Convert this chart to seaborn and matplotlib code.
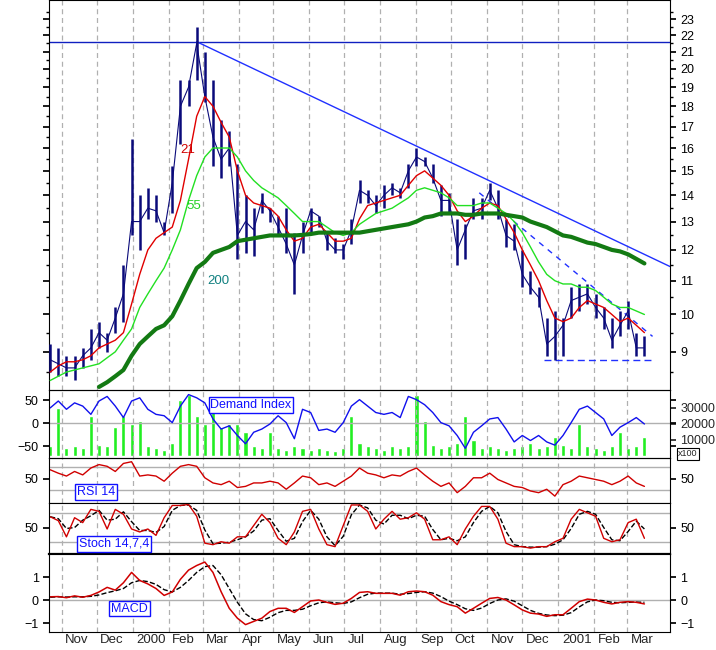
import numpy as np
import pandas as pd
import seaborn as sns
import matplotlib.pyplot as plt
import matplotlib.dates as md
import matplotlib.ticker as mt

sns.set_theme(style="white")
plt.rcParams["font.family"] = "Liberation Sans"

# weekly readings, Oct 22 1999 .. Mar 16 2001
dates = pd.date_range("1999-10-22", periods=74, freq="7D")

close = [8.8, 8.7, 8.6, 8.6, 8.9, 9.1, 9.5, 9.3, 9.9, 10.6, 13.0, 13.0, 13.5, 13.4, 12.6, 14.5, 18.0, 19.0, 21.5, 18.5,
         16.5, 15.5, 16.0, 12.5, 13.0, 12.7, 13.8, 13.4, 12.8, 12.2, 11.5, 12.5, 13.4, 13.2, 12.3, 12.0, 12.0, 12.7, 14.2, 14.0,
         13.6, 14.0, 14.3, 14.1, 15.0, 15.6, 15.4, 14.7, 13.8, 13.8, 12.0, 12.7, 13.4, 13.5, 14.2, 13.5, 12.5, 12.3, 11.2, 10.8,
         10.5, 9.2, 9.4, 9.7, 10.4, 10.5, 10.6, 10.2, 9.9, 9.3, 9.7, 10.1, 9.1, 9.1]
high = [9.2, 9.1, 8.9, 8.9, 9.1, 9.6, 9.8, 9.5, 10.2, 11.5, 16.4, 14.0, 14.3, 14.0, 13.0, 15.2, 19.4, 19.4, 22.5, 21.0,
        19.4, 17.3, 16.8, 15.3, 14.0, 13.5, 14.1, 13.5, 13.2, 13.5, 12.6, 13.0, 13.5, 13.2, 12.6, 12.4, 12.2, 13.1, 14.6, 14.2,
        14.0, 14.4, 14.5, 14.3, 15.3, 16.0, 15.6, 15.3, 14.4, 14.1, 13.1, 12.9, 13.9, 13.9, 14.5, 14.2, 13.1, 12.9, 12.0, 11.3,
        10.8, 9.9, 10.1, 9.9, 10.8, 10.9, 10.9, 10.6, 10.2, 9.9, 10.1, 10.4, 9.5, 9.4]
low = [8.5, 8.4, 8.4, 8.3, 8.6, 8.8, 9.1, 9.0, 9.5, 9.8, 12.5, 12.0, 13.1, 13.0, 12.5, 13.3, 16.2, 18.0, 19.4, 18.2,
       15.2, 14.7, 15.2, 11.7, 11.9, 11.8, 13.3, 13.0, 12.5, 11.9, 10.6, 11.9, 12.6, 12.8, 12.0, 11.9, 11.7, 12.2, 13.7, 13.7,
       13.3, 13.5, 14.0, 13.9, 14.3, 15.2, 15.2, 14.5, 13.2, 13.3, 11.5, 11.7, 13.1, 13.1, 13.8, 13.1, 12.1, 12.0, 10.8, 10.6,
       10.2, 8.9, 8.8, 8.9, 9.9, 10.1, 10.3, 9.9, 9.6, 9.1, 9.4, 9.6, 8.9, 8.9]
ma21 = [8.5, 8.65, 8.75, 8.75, 8.8, 8.9, 9.1, 9.2, 9.3, 9.5, 10.3, 11.2, 12.0, 12.4, 12.6, 12.8, 13.8, 15.5, 17.5, 18.5,
        18.0, 17.2, 16.5, 15.0, 14.0, 13.7, 13.6, 13.5, 13.2, 12.7, 12.3, 12.4, 12.8, 12.9, 12.6, 12.3, 12.3, 12.4, 13.1, 13.6,
        13.7, 13.8, 13.9, 14.0, 14.4, 14.8, 15.0, 14.7, 14.4, 14.0, 13.4, 13.0, 13.2, 13.5, 13.7, 13.6, 13.1, 12.6, 12.0, 11.5,
        11.0, 10.4, 9.9, 9.8, 9.9, 10.2, 10.4, 10.3, 10.2, 10.0, 9.8, 9.9, 9.7, 9.5]
ma55 = [8.3, 8.4, 8.5, 8.55, 8.6, 8.65, 8.7, 8.85, 9.0, 9.3, 9.6, 10.2, 10.6, 11.0, 11.4, 12.0, 12.7, 13.8, 14.8, 15.6,
        16.0, 16.0, 16.0, 15.6, 15.0, 14.6, 14.3, 14.1, 13.9, 13.6, 13.3, 13.0, 13.0, 13.0, 12.8, 12.6, 12.5, 12.6, 12.9, 13.1,
        13.3, 13.4, 13.5, 13.7, 13.9, 14.2, 14.3, 14.2, 14.1, 13.9, 13.6, 13.6, 13.6, 13.7, 13.7, 13.5, 13.3, 13.0, 12.6, 12.1,
        11.6, 11.2, 11.0, 10.9, 10.9, 10.8, 10.8, 10.7, 10.5, 10.3, 10.2, 10.2, 10.1, 10.0]
ma200 = [np.nan] * 6 + [8.15, 8.26, 8.4, 8.55, 8.9, 9.2, 9.4, 9.6, 9.7, 9.95, 10.4, 10.9, 11.4, 11.6,
         11.9, 12.0, 12.1, 12.3, 12.35, 12.4, 12.45, 12.5, 12.5, 12.5, 12.5, 12.52, 12.55, 12.6, 12.6, 12.6, 12.6, 12.6, 12.6, 12.65,
         12.7, 12.75, 12.8, 12.85, 12.9, 13.0, 13.15, 13.2, 13.3, 13.3, 13.3, 13.25, 13.25, 13.3, 13.3, 13.3, 13.25, 13.2, 13.15, 13.0,
         12.9, 12.8, 12.65, 12.5, 12.45, 12.35, 12.25, 12.2, 12.1, 12.0, 11.95, 11.85, 11.7, 11.55]

demand = [33, 48, 30, 44, 37, 19, 48, 58, 37, 12, 48, 55, 30, 19, 16, 1, 37, 62, 55, 44,
          9, -13, -6, -27, -45, -20, -13, -2, 16, 1, -34, 30, 23, -16, -13, -20, 1, 37, 51, 37,
          23, 19, 23, 12, 58, 51, 40, 23, 1, -6, -27, -55, -20, -6, 9, 12, -13, -41, -27, -38,
          -27, -41, -48, -27, 1, 30, 37, 23, 9, -27, -9, 1, 12, -2]
volume = [6000, 30000, 5000, 6000, 5000, 25000, 7000, 6000, 18000, 25000, 20000, 22000, 6000, 5000, 4000, 8000, 35000, 38000, 25000, 20000,
          30000, 18000, 20000, 20000, 15000, 6000, 5000, 15000, 5000, 4000, 6000, 5000, 4000, 5000, 4000, 3000, 5000, 25000, 8000, 6000,
          5000, 4000, 6000, 5000, 6000, 38000, 22000, 7000, 5000, 6000, 8000, 25000, 10000, 5000, 6000, 5000, 4000, 5000, 6000, 8000,
          5000, 6000, 12000, 7000, 5000, 20000, 6000, 5000, 4000, 6000, 15000, 5000, 6000, 12000]
rsi = [66, 60, 55, 63, 57, 69, 75, 72, 63, 77, 80, 55, 57, 55, 46, 60, 72, 75, 72, 52,
       43, 40, 46, 35, 37, 43, 43, 46, 43, 32, 43, 55, 52, 40, 43, 37, 46, 55, 69, 60,
       57, 52, 57, 55, 63, 69, 57, 46, 37, 43, 26, 37, 52, 52, 60, 49, 43, 37, 35, 29,
       26, 32, 20, 40, 46, 55, 52, 49, 46, 40, 46, 55, 43, 37]
stoch_k = [72, 64, 31, 70, 60, 87, 83, 47, 87, 77, 47, 41, 47, 34, 70, 95, 95, 97, 73, 18,
           15, 21, 18, 31, 31, 54, 77, 60, 28, 15, 41, 83, 87, 47, 15, 11, 54, 96, 96, 83,
           47, 67, 83, 67, 70, 80, 67, 25, 25, 31, 15, 47, 73, 93, 93, 67, 18, 11, 11, 8,
           11, 11, 21, 28, 67, 87, 80, 73, 28, 21, 25, 60, 67, 28]
stoch_d = [72, 68, 48, 50, 65, 74, 85, 65, 67, 82, 62, 44, 44, 40, 52, 85, 95, 96, 85, 45,
           17, 18, 20, 25, 31, 43, 65, 68, 44, 22, 28, 62, 85, 67, 31, 13, 32, 76, 96, 90,
           65, 57, 75, 75, 68, 75, 73, 46, 25, 28, 23, 31, 60, 83, 93, 80, 42, 15, 11, 10,
           10, 11, 16, 25, 48, 77, 83, 77, 50, 25, 23, 42, 63, 47]
macd = [0.14, 0.15, 0.1, 0.18, 0.12, 0.2, 0.35, 0.55, 0.43, 0.75, 1.2, 0.85, 0.7, 0.5, 0.2, 0.35, 0.9, 1.3, 1.5, 1.65,
        1.2, 0.36, -0.36, -0.79, -1.07, -0.93, -0.79, -0.5, -0.36, -0.36, -0.54, -0.29, -0.04, 0.0, -0.1, -0.19, -0.14, 0.07, 0.33, 0.36,
        0.29, 0.29, 0.29, 0.21, 0.36, 0.39, 0.36, 0.21, -0.07, -0.2, -0.29, -0.57, -0.36, -0.14, 0.07, 0.11, 0.0, -0.21, -0.43, -0.57,
        -0.61, -0.71, -0.64, -0.64, -0.36, -0.07, 0.04, 0.0, -0.1, -0.17, -0.1, -0.07, -0.1, -0.17]
signal = [0.12, 0.14, 0.13, 0.14, 0.14, 0.16, 0.22, 0.32, 0.4, 0.5, 0.75, 0.85, 0.8, 0.68, 0.45, 0.35, 0.55, 0.85, 1.2, 1.45,
          1.5, 1.1, 0.5, -0.1, -0.6, -0.85, -0.9, -0.75, -0.55, -0.45, -0.45, -0.4, -0.25, -0.12, -0.08, -0.12, -0.15, -0.08, 0.1, 0.25,
          0.3, 0.3, 0.3, 0.25, 0.28, 0.33, 0.36, 0.3, 0.15, -0.05, -0.2, -0.38, -0.45, -0.35, -0.15, 0.0, 0.05, -0.05, -0.25, -0.45,
          -0.58, -0.65, -0.68, -0.66, -0.55, -0.3, -0.08, 0.0, -0.03, -0.1, -0.12, -0.1, -0.09, -0.1]

month_labels = ["Nov", "Dec", "2000", "Feb", "Mar", "Apr", "May", "Jun", "Jul", "Aug", "Sep", "Oct",
                "Nov", "Dec", "2001", "Feb", "Mar"]

df = pd.DataFrame(dict(date=dates, close=close, high=high, low=low, ma21=ma21, ma55=ma55, ma200=ma200,
                       demand=demand, volume=volume, rsi=rsi, k=stoch_k, d=stoch_d, macd=macd, signal=signal))

W, H = 716, 650
fig = plt.figure(figsize=(W / 100, H / 100), dpi=100)
fig.patch.set_facecolor("white")


def panel(top, bottom):
    return fig.add_axes([49 / W, 1 - bottom / H, 621 / W, (bottom - top) / H])


ax_p = panel(0, 390)
ax_d = panel(390, 458)
ax_r = panel(458, 503)
ax_s = panel(503, 554)
ax_m = panel(554, 632)
axes = [ax_p, ax_d, ax_r, ax_s, ax_m]

xmin, xmax = pd.Timestamp("1999-10-21"), pd.Timestamp("2001-04-07")
month_starts = pd.date_range("1999-11-01", "2001-03-01", freq="MS")

for ax in axes:
    for m in month_starts:
        ax.axvline(m, color="#b0b0b0", lw=0.9, ls=(0, (4, 3)), zorder=0)
    ax.set_facecolor("white")

# price panel
ax_p.set_yscale("log")
ax_p.vlines(df.date, df.low, df.high, color="#0a0a7a", lw=1.8, zorder=3)
sns.lineplot(data=df, x="date", y="close", ax=ax_p, color="#0a0a7a", lw=0.8, zorder=3)
sns.lineplot(data=df, x="date", y="ma21", ax=ax_p, color="#e00000", lw=1, zorder=4)
sns.lineplot(data=df, x="date", y="ma55", ax=ax_p, color="#22e022", lw=1, zorder=4)
sns.lineplot(data=df, x="date", y="ma200", ax=ax_p, color="#137a13", lw=3, zorder=4)
ax_p.axhline(21.6, color="#1020c0", lw=1, zorder=2)
ax_p.plot([pd.Timestamp("2000-02-25"), xmax], [21.6, 11.45], color="#2030ff", lw=1, zorder=2)
ax_p.plot([pd.Timestamp("2000-10-25"), pd.Timestamp("2001-03-23")], [14.1, 9.4], color="#2030ff", lw=1,
          ls=(0, (4, 4)), zorder=2)
ax_p.plot([pd.Timestamp("2000-12-20"), pd.Timestamp("2001-03-23")], [8.8, 8.8], color="#2030ff", lw=1,
          ls=(0, (5, 3)), zorder=2)
ax_p.set_ylim(8.08, 24.3)
ax_p.text(pd.Timestamp("2000-02-11"), 15.9, "21", color="#d00000", fontsize=9.5, zorder=6, va="center")
ax_p.text(pd.Timestamp("2000-02-16"), 13.6, "55", color="#22d022", fontsize=9.5, zorder=6, va="center")
ax_p.text(pd.Timestamp("2000-03-05"), 11.0, "200", color="#108080", fontsize=9.5, zorder=6, va="center")
ax_p.yaxis.set_major_locator(mt.FixedLocator(range(9, 24)))
ax_p.yaxis.set_minor_locator(mt.FixedLocator(np.arange(8.5, 24, 0.5)))
ax_p.yaxis.set_major_formatter(mt.FormatStrFormatter("%d"))
ax_p.yaxis.set_minor_formatter(mt.NullFormatter())


def box_label(ax, x, y, s):
    ax.text(x, y, s, color="#1010ff", fontsize=9, transform=ax.transAxes, va="center", ha="left",
            bbox=dict(boxstyle="square,pad=0.15", fc="white", ec="#1010ff", lw=1), zorder=6)


# demand index + volume
ax_v = ax_d.twinx()
ax_v.bar(df.date, df.volume, width=3.5, color="#22ee22", zorder=1)
ax_v.set_ylim(-1250, 41250)
ax_v.set_yticks([10000, 20000, 30000])
ax_v.tick_params(axis="y", labelsize=9, right=True, direction="out", length=4)
ax_v.grid(False)
ax_v.set_xlim(xmin, xmax)
ax_v.set_ylabel("")
for s in ax_v.spines.values():
    s.set_visible(False)
ax_d.set_zorder(ax_v.get_zorder() + 1)
ax_d.patch.set_visible(False)
ax_d.axhline(0, color="#b0b0b0", lw=1)
sns.lineplot(data=df, x="date", y="demand", ax=ax_d, color="#1010ee", lw=1)
ax_d.set_ylim(-76, 72)
ax_d.set_yticks([-50, 0, 50])
box_label(ax_d, 0.26, 0.78, "Demand Index")
fig.text(678 / W, 1 - 454 / H, "x100", fontsize=6.5, va="center",
         bbox=dict(boxstyle="square,pad=0.12", fc="white", ec="black", lw=0.8), zorder=10)

# RSI
ax_r.axhline(70, color="#b0b0b0", lw=1)
ax_r.axhline(30, color="#b0b0b0", lw=1)
sns.lineplot(data=df, x="date", y="rsi", ax=ax_r, color="#d00000", lw=1)
ax_r.set_ylim(8, 86.5)
ax_r.set_yticks([50])
box_label(ax_r, 0.045, 0.25, "RSI 14")

# Stochastic
ax_s.axhline(80, color="#b0b0b0", lw=1)
ax_s.axhline(20, color="#b0b0b0", lw=1)
sns.lineplot(data=df, x="date", y="d", ax=ax_s, color="black", lw=1, ls="--")
sns.lineplot(data=df, x="date", y="k", ax=ax_s, color="#d00000", lw=1)
ax_s.set_ylim(-4, 100)
ax_s.set_yticks([50])
box_label(ax_s, 0.048, 0.2, "Stoch 14,7,4")

# MACD
ax_m.axhline(0, color="#b0b0b0", lw=1)
sns.lineplot(data=df, x="date", y="signal", ax=ax_m, color="black", lw=1, ls="--")
sns.lineplot(data=df, x="date", y="macd", ax=ax_m, color="#d00000", lw=1.1)
ax_m.set_ylim(-1.39, 2.0)
ax_m.set_yticks([-1, 0, 1])
box_label(ax_m, 0.1, 0.3, "MACD")

# common styling after seaborn calls
for ax in axes:
    ax.set_xlim(xmin, xmax)
    ax.set_xlabel("")
    ax.set_ylabel("")
    for s in ax.spines.values():
        s.set_color("black")
        s.set_linewidth(0.8)
    ax.tick_params(axis="both", which="both", direction="out", colors="black", labelsize=9,
                   left=True, right=True, labelleft=True, labelright=True, length=4)
for ax in axes[:-1]:
    ax.tick_params(axis="x", which="both", bottom=False, labelbottom=False)
ax_p.tick_params(axis="y", which="both", labelleft=False)
ax_p.tick_params(axis="y", which="minor", length=2)
ax_d.tick_params(axis="y", labelright=False)
ax_s.spines["bottom"].set_linewidth(1.6)

# bottom month axis
ax_m.xaxis.set_major_locator(mt.FixedLocator(md.date2num(month_starts)))
ax_m.xaxis.set_major_formatter(mt.NullFormatter())
ax_m.xaxis.set_minor_locator(md.DayLocator(interval=7))
ax_m.tick_params(axis="x", which="major", length=18, width=0.8)
ax_m.tick_params(axis="x", which="minor", length=4, width=0.8)
for m, lab in zip(month_starts, month_labels):
    ax_m.text(m + pd.Timedelta(days=3), -0.03, lab, transform=ax_m.get_xaxis_transform(),
              ha="left", va="top", fontsize=9.5)

fig.savefig("out.png", dpi=100)
